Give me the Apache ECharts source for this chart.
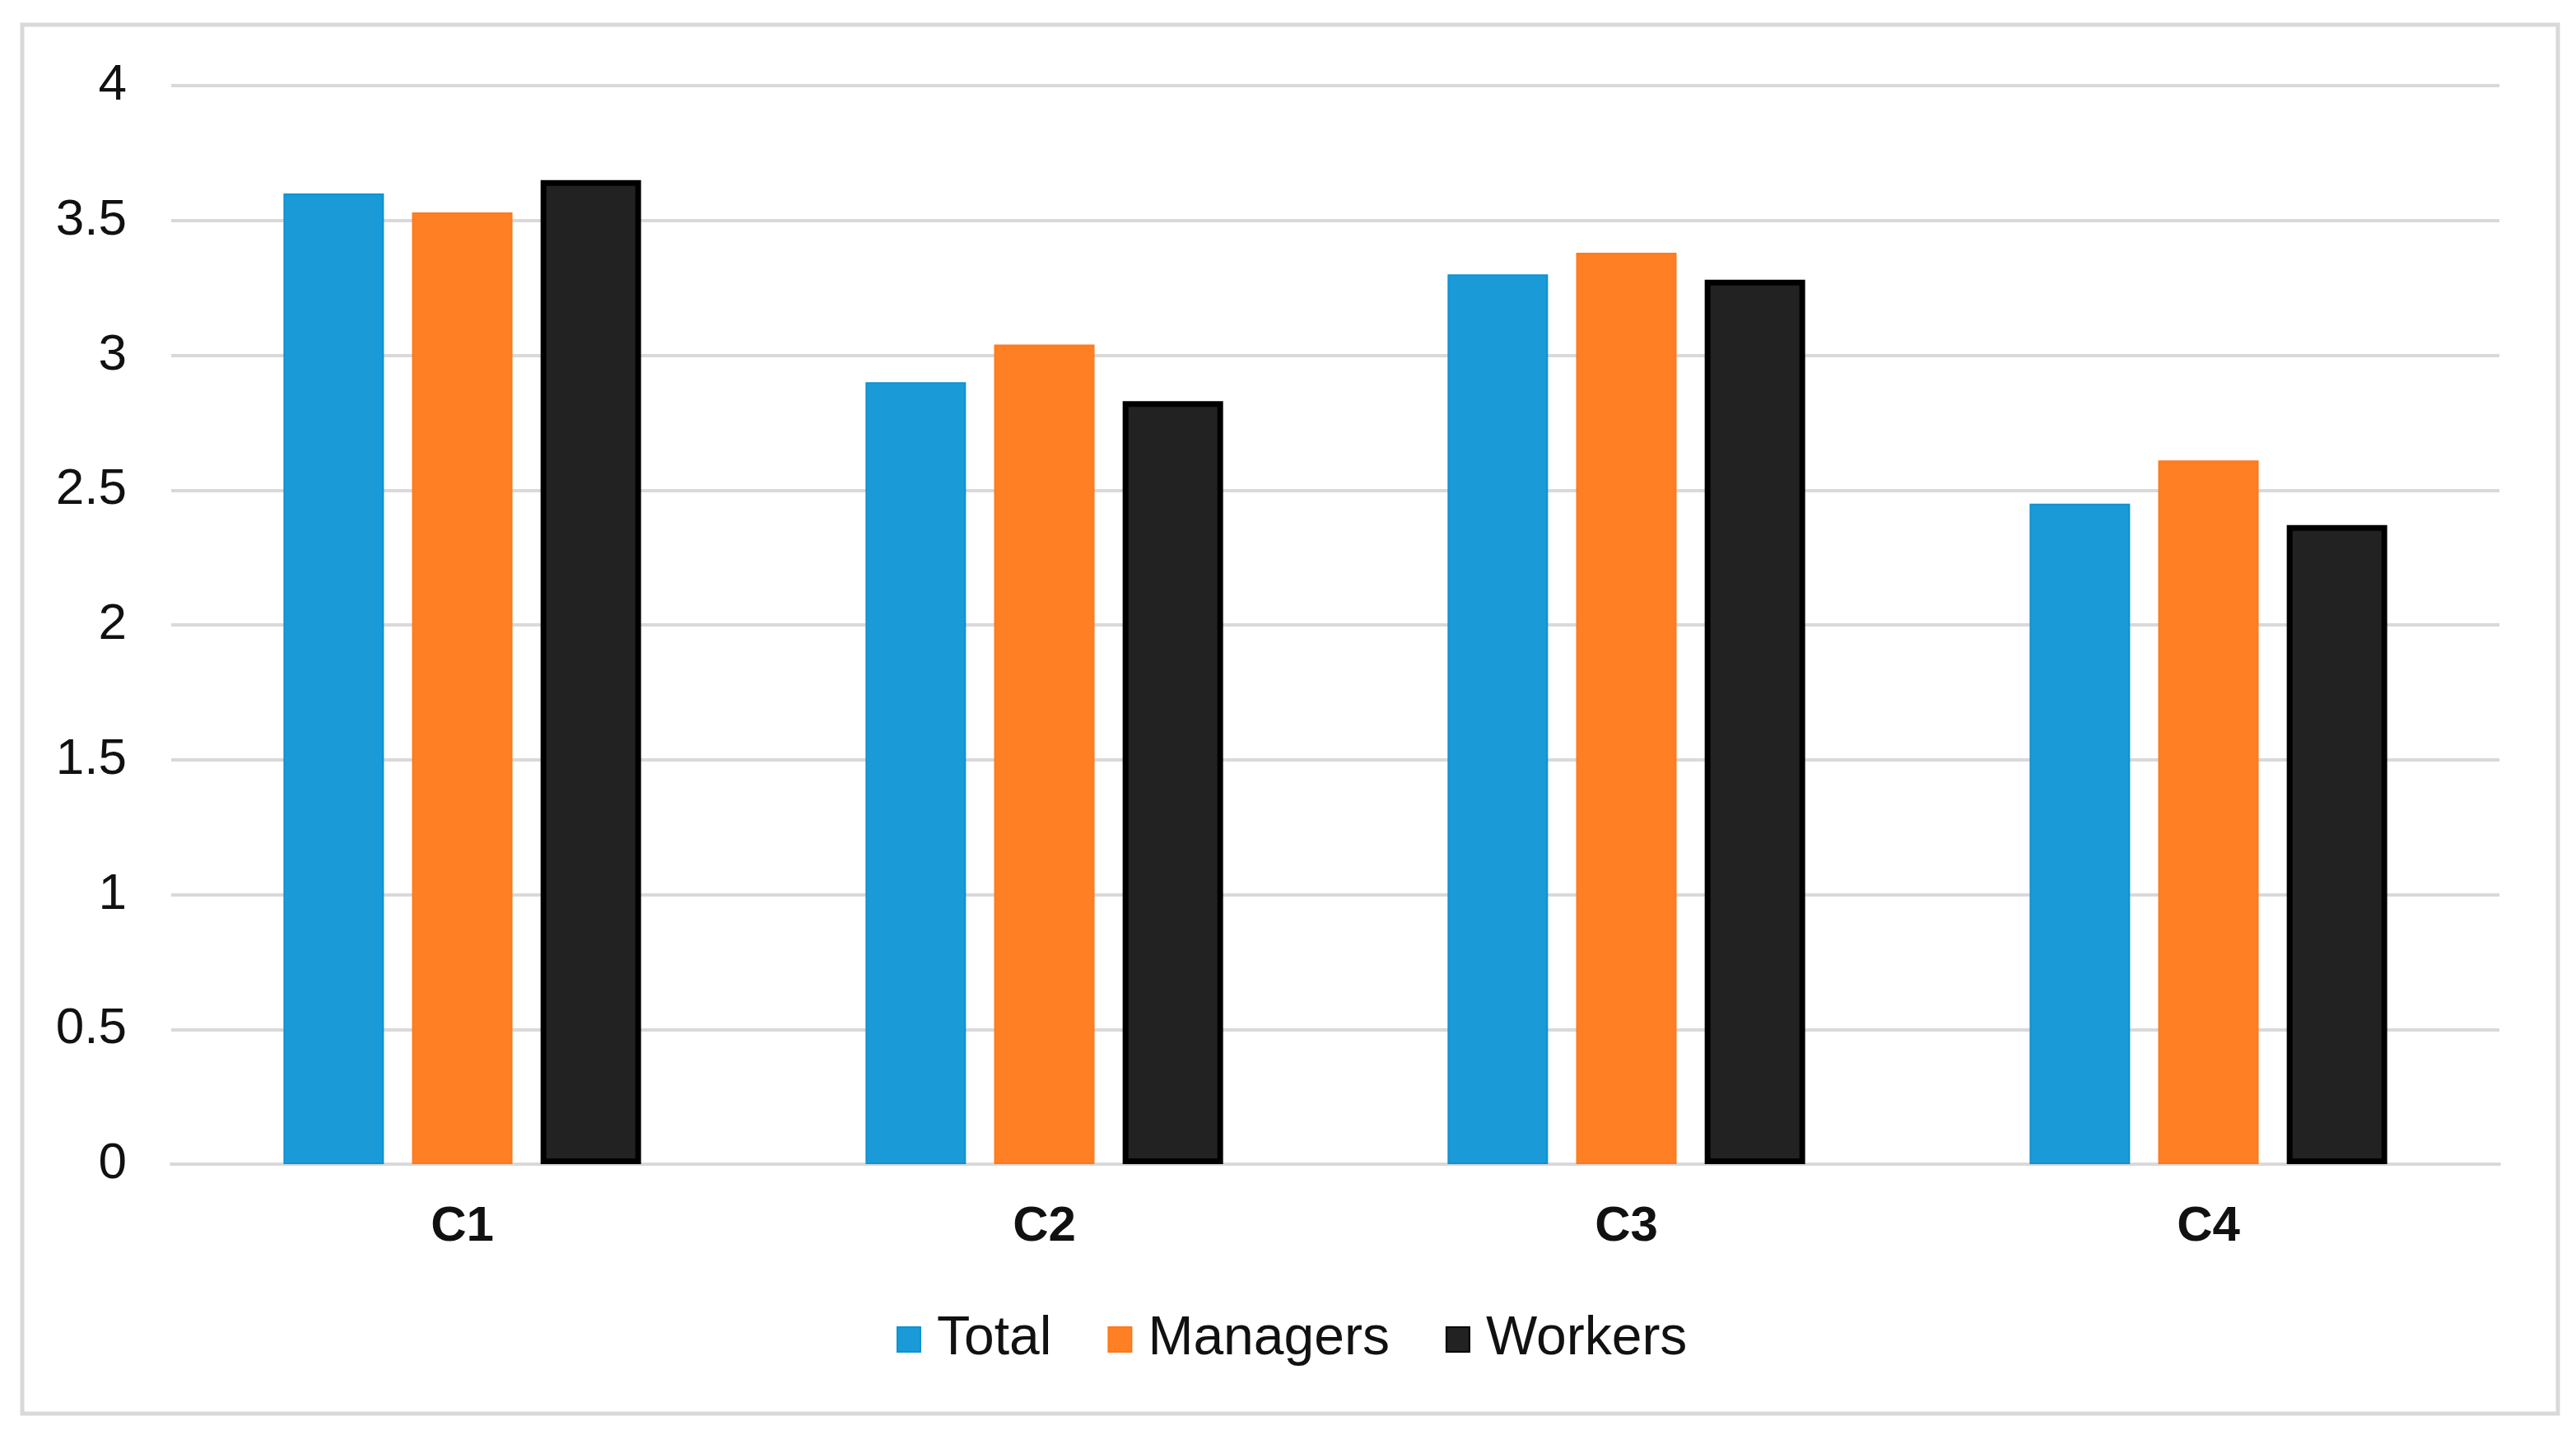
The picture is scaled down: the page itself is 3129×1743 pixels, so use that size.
<!DOCTYPE html>
<html>
<head>
<meta charset="utf-8">
<script src="https://cdn.jsdelivr.net/npm/echarts@6/dist/echarts.min.js"></script>
<style>
html,body{margin:0;padding:0;background:#fff;}
#chart{width:3129px;height:1743px;}
</style>
</head>
<body>
<div id="chart"></div>
<script>
const categories = ['C1', 'C2', 'C3', 'C4'];
const totalValues = [3.60, 2.90, 3.30, 2.45];
const managersValues = [3.53, 3.04, 3.38, 2.61];
const workersValues = [3.65, 2.83, 3.28, 2.37];
const yTicks = { min: 0, max: 4, interval: 0.5 };

const chart = echarts.init(document.getElementById('chart'), null, { renderer: 'canvas' });
const font = 'Liberation Sans, Arial, Helvetica, sans-serif';

chart.setOption({
  backgroundColor: '#ffffff',
  animation: false,
  graphic: [{
    type: 'rect',
    shape: { x: 27, y: 30, width: 3080, height: 1687 },
    style: { fill: 'none', stroke: '#d9d9d9', lineWidth: 5 },
    silent: true
  }],
  grid: { left: 208, right: 93, top: 104, bottom: 329, containLabel: false },
  legend: {
    data: ['Total', 'Managers', 'Workers'],
    left: 1084,
    top: 1589,
    itemWidth: 28,
    itemHeight: 30,
    itemGap: 68,
    icon: 'rect',
    textStyle: { fontFamily: font, fontSize: 66, color: '#111', padding: [0, 0, 0, 15] }
  },
  xAxis: {
    type: 'category',
    data: categories,
    axisLine: { show: true, lineStyle: { color: '#d9d9d9', width: 4 } },
    axisTick: { show: false },
    axisLabel: { fontFamily: font, fontSize: 60, fontWeight: 'bold', color: '#111', margin: 46 }
  },
  yAxis: {
    type: 'value',
    min: yTicks.min,
    max: yTicks.max,
    interval: yTicks.interval,
    axisLine: { show: false },
    axisTick: { show: false },
    splitLine: { lineStyle: { color: '#d9d9d9', width: 4 } },
    axisLabel: { fontFamily: font, fontSize: 62, color: '#111', margin: 54 }
  },
  series: [
    {
      name: 'Total', type: 'bar', data: totalValues,
      barWidth: 122, barGap: '28%',
      itemStyle: { color: '#1a9bd7', borderColor: '#0e92d2', borderWidth: 2 }
    },
    {
      name: 'Managers', type: 'bar', data: managersValues,
      barWidth: 122, barGap: '28%',
      itemStyle: { color: '#fe7f24', borderColor: '#fd7a1c', borderWidth: 2 }
    },
    {
      name: 'Workers', type: 'bar', data: workersValues,
      barWidth: 122, barGap: '28%',
      itemStyle: { color: '#222222', borderColor: '#000000', borderWidth: 7 }
    }
  ]
});
</script>
</body>
</html>
